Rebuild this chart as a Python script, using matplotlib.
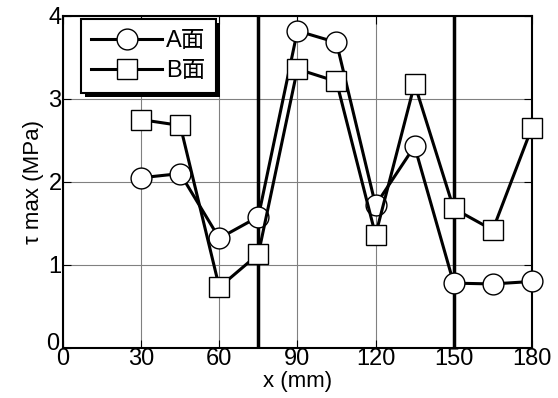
import matplotlib.pyplot as plt
import matplotlib.transforms as mtransforms
from matplotlib.patches import Rectangle

plt.rcParams['font.family'] = ['Liberation Sans', 'Noto Sans CJK JP', 'DejaVu Sans']

x = [30, 45, 60, 75, 90, 105, 120, 135, 150, 165, 180]
a_face = [2.05, 2.10, 1.32, 1.58, 3.82, 3.68, 1.72, 2.43, 0.78, 0.77, 0.80]
b_face = [2.75, 2.68, 0.73, 1.13, 3.36, 3.21, 1.36, 3.18, 1.68, 1.42, 2.65]
x_ticks = [0, 30, 60, 90, 120, 150, 180]
y_ticks = [0, 1, 2, 3, 4]
boundaries = [75, 150]

fig = plt.figure(figsize=(5.58, 3.98), dpi=100)
ax = fig.add_axes([0.113, 0.126, 0.840, 0.834])

ax.grid(True, color='#808080', linewidth=0.8)
ax.set_axisbelow(True)
for b in boundaries:
    ax.axvline(b, color='black', linewidth=2.5, zorder=2)

ax.plot(x, a_face, '-o', color='black', linewidth=2.2, markersize=15,
        markerfacecolor='white', markeredgecolor='black', markeredgewidth=1,
        label='A面', zorder=3, clip_on=False)
ax.plot(x, b_face, '-s', color='black', linewidth=2.2, markersize=15,
        markerfacecolor='white', markeredgecolor='black', markeredgewidth=1,
        label='B面', zorder=3, clip_on=False)

ax.set_xlim(0, 180)
ax.set_ylim(0, 4)
ax.set_xticks(x_ticks)
ax.set_yticks(y_ticks)
ax.tick_params(direction='in', top=True, right=True, length=6, width=0.8,
               labelsize=17, pad=1)
ax.tick_params(axis='x', pad=0)
for s in ax.spines.values():
    s.set_linewidth(1.5)
ax.set_xlabel('x (mm)', fontsize=16, labelpad=1)
ax.set_ylabel('τ max (MPa)', fontsize=16, labelpad=2)

# lift the y "0" a little so it sits clear of the x "0"
lbl0 = ax.get_yticklabels()[0]
lbl0.set_transform(lbl0.get_transform() +
                   mtransforms.ScaledTranslation(-2 / 100, 6 / 100, fig.dpi_scale_trans))

leg = ax.legend(loc='upper left', bbox_to_anchor=(0.03, 1.0), fontsize=17,
                frameon=True, fancybox=False, shadow=False, framealpha=1,
                edgecolor='black', handlelength=3.0, handletextpad=0.15,
                borderaxespad=0.15, borderpad=0.45, labelspacing=0.35)
leg.get_frame().set_linewidth(1.5)
leg.set_zorder(5)

fig.canvas.draw()
bb = leg.get_window_extent().transformed(fig.transFigure.inverted())
shadow = Rectangle((bb.x0 + 4 / 558, bb.y0 - 4 / 398), bb.width, bb.height,
                   transform=fig.transFigure, facecolor='black',
                   edgecolor='none', zorder=4)
ax.add_artist(shadow)
shadow.set_clip_on(False)

fig.savefig('out.png', dpi=100)
